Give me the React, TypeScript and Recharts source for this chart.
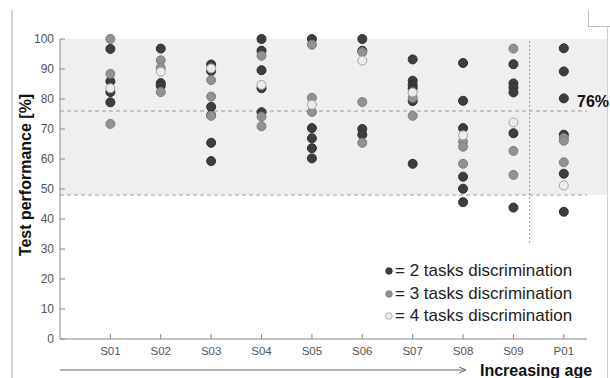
import { ScatterChart, Scatter, XAxis, YAxis, ReferenceArea, ReferenceLine, Legend } from "recharts"

// subjects, ordered by increasing age
const categories = ["S01", "S02", "S03", "S04", "S05", "S06", "S07", "S08", "S09", "P01"]

// test performance [%] per subject, one list per discrimination level
const twoTasks: number[][] = [
  [96.7, 85.9, 82.3, 78.9],
  [96.8, 85.3, 84.4],
  [91.5, 89.3, 77.4, 74.6, 65.4, 59.3],
  [100, 96.1, 89.6, 83.6, 75.6],
  [100, 70.3, 66.9, 63.6, 60.2],
  [100, 96.1, 70, 68.1],
  [93.2, 86.1, 84.7, 83.6, 79.3, 58.4],
  [92, 79.4, 70.3, 54.1, 50.1, 45.6],
  [91.6, 85.2, 83.8, 82.2, 68.6, 43.8],
  [96.9, 89.2, 80.2, 68.1, 55.1, 42.4],
]

const threeTasks: number[][] = [
  [100, 88.4, 71.7],
  [92.9, 90.4, 82.3],
  [86.3, 80.8, 74.4],
  [94.4, 74.1, 70.9],
  [98.1, 80.4, 75.7],
  [95.6, 79, 65.4],
  [80.4, 74.4],
  [65.8, 64.1, 58.4],
  [96.8, 62.7, 54.7],
  [67, 66.1, 58.9],
]

const fourTasks: number[][] = [
  [83.6],
  [89.1],
  [90.2],
  [84.7],
  [78.1],
  [92.8],
  [82.2],
  [67.9],
  [72.2],
  [51.2],
]

const yTicks = [0, 10, 20, 30, 40, 50, 60, 70, 80, 90, 100]
const threshold = 76
const bandLow = 48
const splitAt = 9.32 // between the S and P subjects
const splitBottom = 32

const SERIES = [
  { name: "= 2 tasks discrimination", data: twoTasks, fill: "#3e3e3e", stroke: "#2e2e2e" },
  { name: "= 3 tasks discrimination", data: threeTasks, fill: "#929292", stroke: "#7e7e7e" },
  { name: "= 4 tasks discrimination", data: fourTasks, fill: "#ececec", stroke: "#a2a2a2" },
]

function toPoints(values: number[][]) {
  return values.flatMap((vals, i) => vals.map((v) => ({ x: i + 1, y: v, subject: categories[i] })))
}

const AXIS = "#8a8a8a"
const TICK_TEXT = "#555"

function YTick({ x, y, payload }: any) {
  return (
    <g>
      <line x1={x} x2={x + 5} y1={y} y2={y} stroke={AXIS} />
      <text x={x - 6} y={y} dy={4} textAnchor="end" fontSize={12} fill={TICK_TEXT}>
        {payload.value}
      </text>
    </g>
  )
}

function XTick({ x, y, payload }: any) {
  return (
    <g>
      <line x1={x} x2={x} y1={y} y2={y - 5} stroke={AXIS} />
      <text x={x} y={y + 16} textAnchor="middle" fontSize={11.5} fill={TICK_TEXT}>
        {categories[payload.value - 1]}
      </text>
    </g>
  )
}

function Dot(fill: string, stroke: string) {
  return function DotShape(props: any) {
    const { cx, cy } = props
    if (cx == null || cy == null) return null
    return <circle cx={cx} cy={cy} r={4.5} fill={fill} stroke={stroke} strokeWidth={1} />
  }
}

function LegendContent() {
  return (
    <div style={{ display: "flex", flexDirection: "column" }}>
      {SERIES.map((s) => (
        <div key={s.name} style={{ display: "flex", alignItems: "center", height: 22.5 }}>
          <svg width={12} height={12} style={{ display: "block" }}>
            <circle cx={6} cy={6} r={3.3} fill={s.fill} stroke={s.stroke} strokeWidth={0.8} />
          </svg>
          <span style={{ fontSize: 17, color: "#222", whiteSpace: "nowrap" }}>{s.name}</span>
        </div>
      ))}
    </div>
  )
}

export default function App() {
  return (
    <div
      style={{
        position: "fixed",
        left: 0,
        top: 0,
        width: 610,
        height: 378,
        background: "#fff",
        fontFamily: "'Liberation Sans', Arial, sans-serif",
      }}
    >
      {/* frame remnants of the original figure */}
      <div style={{ position: "absolute", left: 11, top: 10, width: 2, height: 368, background: "#d6d6d6" }} />
      <div style={{ position: "absolute", left: 588, top: 10, width: 1, height: 16, background: "#bdbdbd" }} />
      <div style={{ position: "absolute", left: 588, top: 26, width: 22, height: 1, background: "#bdbdbd" }} />
      <div style={{ position: "absolute", left: 607, top: 26, width: 1, height: 352, background: "#d0d0d0" }} />

      <ScatterChart width={610} height={378} margin={{ top: 39, right: 23, bottom: 14, left: 20 }}>
        <ReferenceArea
          x1={0}
          x2={10.86}
          y1={bandLow}
          y2={100}
          fill="#efefef"
          fillOpacity={1}
          stroke="none"
          ifOverflow="visible"
        />
        <XAxis
          type="number"
          dataKey="x"
          domain={[0, 10.46]}
          ticks={[1, 2, 3, 4, 5, 6, 7, 8, 9, 10]}
          height={25}
          stroke={AXIS}
          tickLine={false}
          tickSize={0}
          tickMargin={0}
          tick={<XTick />}
          interval={0}
        />
        <YAxis
          type="number"
          dataKey="y"
          domain={[0, 100]}
          ticks={yTicks}
          width={40}
          stroke={AXIS}
          tickLine={false}
          tickSize={0}
          tickMargin={0}
          tick={<YTick />}
          interval={0}
        />
        <ReferenceLine
          y={threshold}
          stroke="#9a9a9a"
          strokeDasharray="4 3"
          label={(p: any) => {
            const vb = p.viewBox
            return (
              <text x={vb.x + vb.width - 10} y={vb.y - 4} fontSize={16} fontWeight="bold" fill="#111">
                76%
              </text>
            )
          }}
        />
        <ReferenceLine y={bandLow} stroke="#9a9a9a" strokeDasharray="4 3" />
        <ReferenceLine
          segment={[
            { x: splitAt, y: splitBottom },
            { x: splitAt, y: 100 },
          ]}
          stroke="#9a9a9a"
          strokeDasharray="2 2"
        />
        {SERIES.map((s) => (
          <Scatter
            key={s.name}
            name={s.name}
            data={toPoints(s.data)}
            fill={s.fill}
            shape={Dot(s.fill, s.stroke)}
            isAnimationActive={false}
          />
        ))}
        <Legend
          layout="vertical"
          align="center"
          verticalAlign="middle"
          content={<LegendContent />}
          wrapperStyle={{ left: 383, top: 260, width: 220, height: 70 }}
        />

        <text
          x={25}
          y={175}
          transform="rotate(-90 25 175)"
          textAnchor="middle"
          dominantBaseline="central"
          fontSize={16}
          fontWeight="bold"
          fill="#111"
        >
          Test performance [%]
        </text>
        <line x1={60} y1={370} x2={465} y2={370} stroke="#666" strokeWidth={1} />
        <path d="M459,367 L466,370 L459,373" fill="none" stroke="#666" strokeWidth={1} />
        <text x={480} y={376} fontSize={16} fontWeight="bold" fill="#111">
          Increasing age
        </text>
      </ScatterChart>
    </div>
  )
}
